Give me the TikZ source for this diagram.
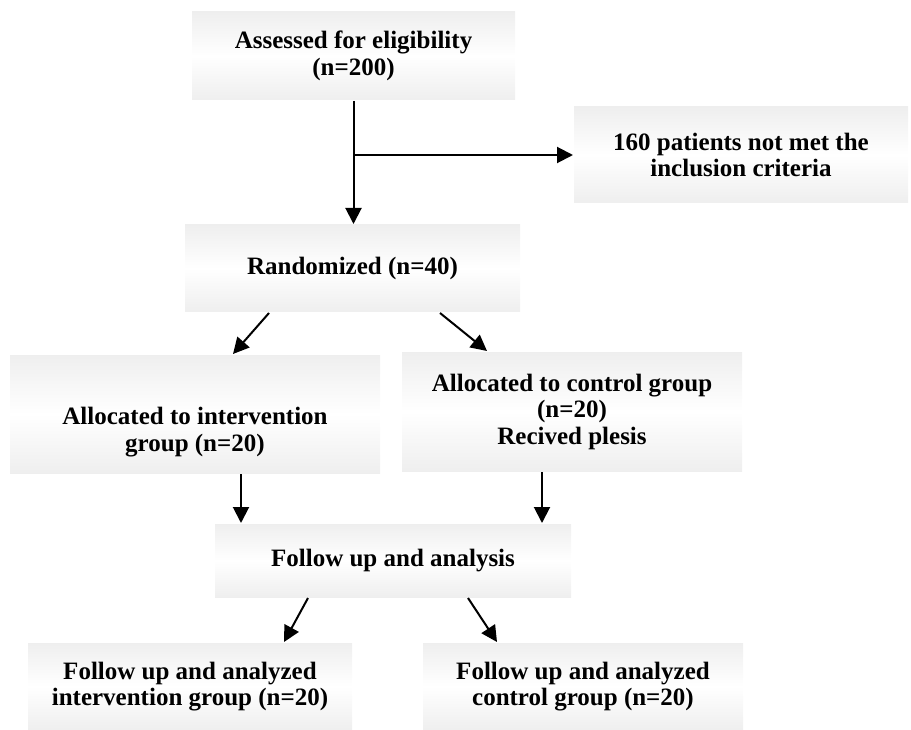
\documentclass[tikz,border=0pt]{standalone}
\usepackage{fontspec}
\setmainfont{Liberation Serif}
\usetikzlibrary{arrows.meta}

\begin{document}
\begin{tikzpicture}[x=1pt, y=-1pt, line width=2pt, >={Triangle[length=16pt, width=16pt]},
		box/.style={rectangle, inner sep=0pt, top color=gray!13, bottom color=gray!13, middle color=white, align=center, font=\fontsize{25}{26.5}\selectfont\bfseries},
		txt/.style={inner sep=0pt, align=center, font=\fontsize{25}{26.5}\selectfont\bfseries},
		link/.style={->}]
	\useasboundingbox (0,0) rectangle (911,730);

	\node[box, minimum width=323pt, minimum height=88pt] (assess) at (353.5,56) {Assessed for eligibility\\(n=200)};
	\node[box, minimum width=334pt, minimum height=96pt] (excl) at (741,155) {160 patients not met the\\inclusion criteria};
	\node[box, minimum width=335pt, minimum height=87pt] (rand) at (352.5,268.5) {Randomized (n=40)};
	\node[box, minimum width=370pt, minimum height=118pt] (inter) at (195,414) {};
	\node[txt] (intertext) at ([yshift=-18pt]inter.center) {Allocated to intervention\\group (n=20)};
	\node[box, minimum width=340pt, minimum height=119pt] (ctrl) at (572,411.5) {Allocated to control group\\(n=20)\\Recived plesis};
	\node[box, minimum width=356pt, minimum height=73pt] (follow) at (393,560.5) {Follow up and analysis};
	\node[box, minimum width=324pt, minimum height=87pt] (outinter) at (190,686.5) {Follow up and analyzed\\intervention group (n=20)};
	\node[box, minimum width=320pt, minimum height=87pt] (outctrl) at (583,686.5) {Follow up and analyzed\\control group (n=20)};

	\draw[link] (assess.south) -- (assess.south |- rand.north);
	\draw[link] (assess.south |- excl.west) -- (excl.west);
	\draw[link] ([xshift=-83.5pt]rand.south) -- ([xshift=38pt]inter.north);
	\draw[link] ([xshift=87.5pt]rand.south) -- ([xshift=-85pt]ctrl.north);
	\draw[link] ([xshift=46pt]inter.south) -- ([xshift=46pt]inter.south |- follow.north);
	\draw[link] ([xshift=-30pt]ctrl.south) -- ([xshift=-30pt]ctrl.south |- follow.north);
	\draw[link] ([xshift=-85pt]follow.south) -- ([xshift=94pt]outinter.north);
	\draw[link] ([xshift=75pt]follow.south) -- ([xshift=-86pt]outctrl.north);
\end{tikzpicture}
\end{document}
